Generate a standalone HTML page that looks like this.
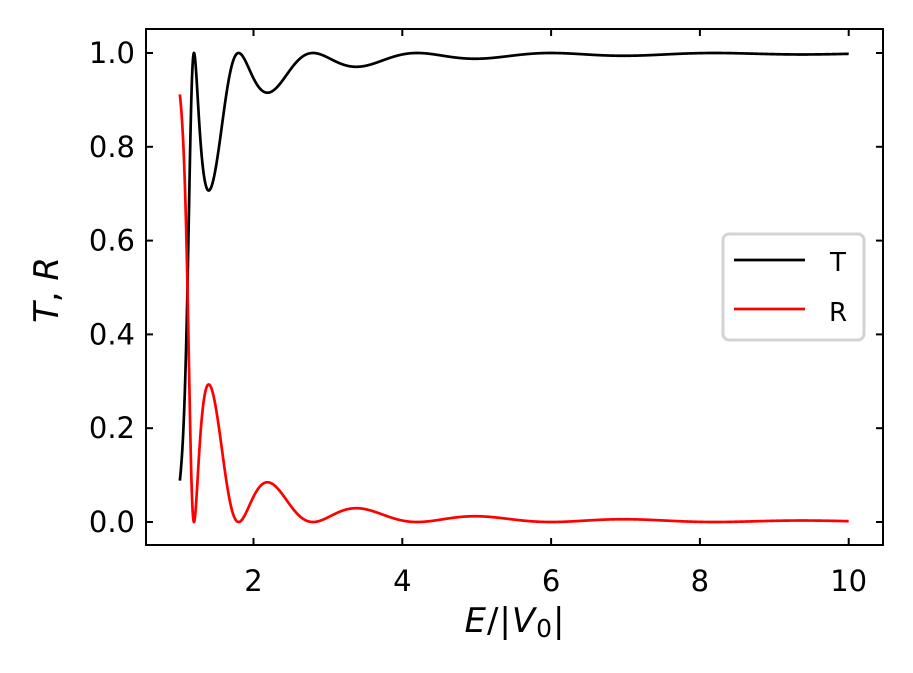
<!DOCTYPE html>
<html><head><meta charset="utf-8"><style>
html,body{margin:0;padding:0;background:#fff;}
svg{display:block;}
text{font-family:"DejaVu Sans","Liberation Sans",sans-serif;fill:#000;}
</style></head><body>
<svg id="s" width="913" height="673" viewBox="0 0 913 673" xmlns="http://www.w3.org/2000/svg">
<rect x="146" y="29" width="737" height="516" fill="none" stroke="#000" stroke-width="2"/>
<g id="ticks" stroke="#000" stroke-width="2"></g>
<g style="font-size:29px" text-anchor="end" id="yl"></g>
<g style="font-size:29px" text-anchor="middle" id="xl"></g>
<path id="pT" fill="none" stroke="#000" stroke-width="2.7"/>
<path id="pR" fill="none" stroke="#f00" stroke-width="2.7"/>
<rect x="723" y="234" width="141" height="106" rx="6" fill="#fff" stroke="#d3d3d3" stroke-width="3"/>
<line x1="734" y1="260" x2="805" y2="260" stroke="#000" stroke-width="2.7"/>
<line x1="734" y1="309" x2="805" y2="309" stroke="#f00" stroke-width="2.7"/>
<text x="830" y="271" style="font-size:26px">T</text>
<text x="829" y="321" style="font-size:26px">R</text>
<text x="515" y="632" style="font-size:34px;letter-spacing:1px" text-anchor="middle"><tspan font-style="italic">E</tspan>/|<tspan font-style="italic">V</tspan><tspan style="font-size:25px" dy="5">0</tspan><tspan dy="-5">|</tspan></text>
<text transform="translate(58,290) rotate(-90)" style="font-size:34px" text-anchor="middle"><tspan font-style="italic">T</tspan>, <tspan font-style="italic">R</tspan></text>
</svg>
<script>
var X=function(e){return 253.5+(e-2)*74.4;},Y=function(v){return 522-v*469;};
var t=document.getElementById('ticks'),yl=document.getElementById('yl'),xl=document.getElementById('xl');
var h='';
for(var i=0;i<=5;i++){var v=i*0.2,y=Y(v);h+='<line x1="146" y1="'+y+'" x2="153" y2="'+y+'"/><line x1="876" y1="'+y+'" x2="883" y2="'+y+'"/>';
yl.innerHTML+='<text x="135" y="'+(y+10)+'">'+v.toFixed(1)+'</text>';}
for(var e=2;e<=10;e+=2){var x=X(e);h+='<line x1="'+x+'" y1="545" x2="'+x+'" y2="538"/><line x1="'+x+'" y1="29" x2="'+x+'" y2="36"/>';
xl.innerHTML+='<text x="'+x+'" y="591">'+e+'</text>';}
t.innerHTML=h;
var a='',b='';
for(var k=0;k<=3000;k++){var e=1.01+k*(10-1.01)/3000;var s=Math.sin(Math.PI*Math.sqrt(5*(e-1)));
var T=1/(1+s*s/(4*e*(e-1)));var R=1-T;
a+=(k?'L':'M')+X(e).toFixed(2)+','+Y(T).toFixed(2);b+=(k?'L':'M')+X(e).toFixed(2)+','+Y(R).toFixed(2);}
document.getElementById('pT').setAttribute('d',a);document.getElementById('pR').setAttribute('d',b);
</script>
</body></html>
